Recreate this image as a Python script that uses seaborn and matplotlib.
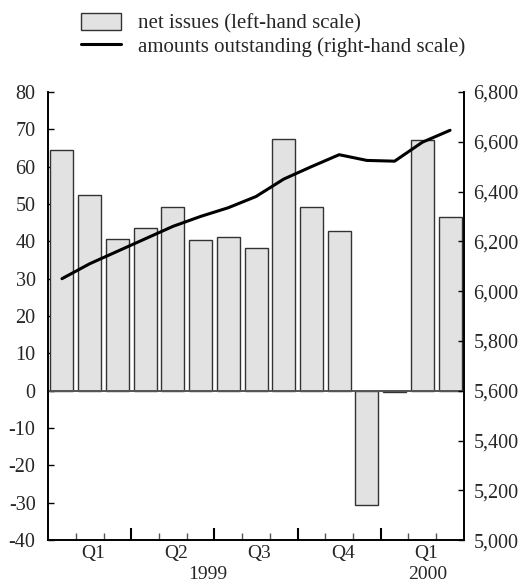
import matplotlib
matplotlib.use("Agg")
import matplotlib.pyplot as plt
import matplotlib.ticker as mticker
from matplotlib.patches import Patch
from matplotlib.lines import Line2D
import numpy as np
import pandas as pd
import seaborn as sns

# monthly data, Jan 1999 - Mar 2000
months = ["1999-01", "1999-02", "1999-03", "1999-04", "1999-05", "1999-06",
          "1999-07", "1999-08", "1999-09", "1999-10", "1999-11", "1999-12",
          "2000-01", "2000-02", "2000-03"]
net_issues = [64.5, 52.5, 40.7, 43.6, 49.2, 40.4, 41.1, 38.3,
              67.4, 49.2, 42.7, -30.5, -0.3, 67.2, 46.4]
outstanding = [6050, 6110, 6160, 6210, 6260, 6300, 6335, 6380,
               6450, 6500, 6548, 6525, 6522, 6598, 6646]
quarter_labels = ["Q1", "Q2", "Q3", "Q4", "Q1"]
quarter_pos = [1, 4, 7, 10, 13]
year_labels = ["1999", "2000"]
year_pos = [5.25, 13.2]

df = pd.DataFrame({"month": months, "net": net_issues, "out": outstanding})
df["i"] = np.arange(len(df))

sns.set_style("white")
plt.rcParams['font.family'] = ['Liberation Serif', 'DejaVu Serif']
plt.rcParams['axes.unicode_minus'] = False

fs = 14.5

fig = plt.figure(figsize=(5.23, 5.82), dpi=100)
ax = fig.add_axes([0.092, 0.072, 0.795, 0.770])

sns.barplot(data=df, x="month", y="net", ax=ax, color="#e2e2e2",
            saturation=1, edgecolor="#333333", linewidth=1.0, width=0.83)
ax.axhline(0, color="#555555", lw=1.4, zorder=3)
ax.set_ylim(-40, 80)
ax.set_xlim(-0.5, len(months) - 0.5)
ax.set_yticks(range(-40, 81, 10))
ax.set_xlabel("")
ax.set_ylabel("")

# tick marks at month boundaries, longer ones at quarter boundaries
bounds = np.arange(0.5, len(months) - 0.5, 1.0)
major = [b for b in bounds if (b + 0.5) % 3 == 0]
minor = [b for b in bounds if (b + 0.5) % 3 != 0]
ax.set_xticks(major)
ax.set_xticklabels([""] * len(major))
ax.xaxis.set_minor_locator(mticker.FixedLocator(minor))
ax.tick_params(axis="x", which="major", direction="in", length=9, width=1.5,
               bottom=True, color="black")
ax.tick_params(axis="x", which="minor", direction="in", length=5, width=1,
               bottom=True, color="#555555")
ax.tick_params(axis="y", direction="in", length=4, width=1, left=True,
               labelsize=fs, pad=9, color="black")

for lab, p in zip(quarter_labels, quarter_pos):
    ax.text(p + 0.13, -0.041, lab, transform=ax.get_xaxis_transform(),
            ha="center", va="baseline", fontsize=14)
for lab, p in zip(year_labels, year_pos):
    ax.text(p, -0.086, lab, transform=ax.get_xaxis_transform(),
            ha="center", va="baseline", fontsize=14)

ax2 = ax.twinx()
sns.lineplot(data=df, x="i", y="out", ax=ax2, color="black", lw=2.2)
ax2.set_ylim(5000, 6800)
ax2.set_yticks(range(5000, 6801, 200))
ax2.yaxis.set_major_formatter(mticker.StrMethodFormatter("{x:,.0f}"))
ax2.set_ylabel("")
ax2.tick_params(axis="y", direction="in", length=4, width=1, right=True,
                labelsize=fs, pad=7, color="black")

for a in (ax, ax2):
    a.spines["top"].set_visible(False)
    for s in ("left", "right", "bottom"):
        a.spines[s].set_color("black")
        a.spines[s].set_linewidth(1.2)

handles = [Patch(facecolor="#e2e2e2", edgecolor="#333333", linewidth=1.0),
           Line2D([0], [0], color="black", lw=2.2)]
labels = ["net issues (left-hand scale)", "amounts outstanding (right-hand scale)"]
fig.legend(handles, labels, loc="upper left", bbox_to_anchor=(0.119, 1.01),
           frameon=False, fontsize=15, handlelength=1.9, handleheight=0.9,
           handletextpad=0.85, labelspacing=0.1)

fig.savefig("out.png", dpi=100)
